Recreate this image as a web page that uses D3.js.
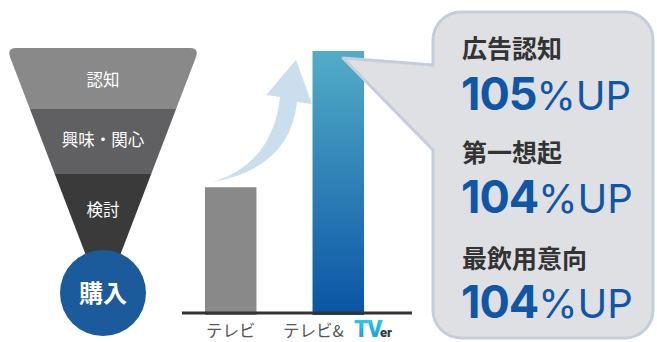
<!DOCTYPE html>
<html>
<head>
<meta charset="utf-8">
<script src="https://cdn.jsdelivr.net/npm/d3@7"></script>
<style>
  html, body { margin: 0; padding: 0; background: #fff; }
  svg { display: block; }
</style>
</head>
<body>
<svg id="chart" width="657" height="342"></svg>
<script>
// Funnel stages (top to bottom) and the final stage shown in the circle
const funnelStages = ["認知", "興味・関心", "検討"];
const funnelGoal = "購入";

// Bar chart: categories and relative bar heights
const barCategories = ["テレビ", "テレビ&TVer"];
const barValues = [48, 100];

// Callout: metric names and uplift values
const metricNames = ["広告認知", "第一想起", "最飲用意向"];
const metricLift = [105, 104, 104];

const JP = "'Noto Sans CJK JP', 'Noto Sans', sans-serif";
const NUM = "Inter, 'Open Sans', sans-serif";

const svg = d3.select("#chart");
const defs = svg.append("defs");

/* ---------- Funnel ---------- */
const fTop = 48, fLeft = 7, fRight = 199, apexY = 300;
const fCx = (fLeft + fRight) / 2;
const bandEdges = [48, 109, 174, 300];
const bandColors = ["#898989", "#606062", "#3a3a3b"];

const tri = d3.path();
const rc = 9;
tri.moveTo(fLeft + rc, fTop);
tri.lineTo(fRight - rc, fTop);
tri.quadraticCurveTo(fRight, fTop, fRight - 3, fTop + rc);
tri.lineTo(fCx, apexY);
tri.lineTo(fLeft + 3, fTop + rc);
tri.quadraticCurveTo(fLeft, fTop, fLeft + rc, fTop);
tri.closePath();

defs.append("clipPath").attr("id", "funnelClip")
  .append("path").attr("d", tri.toString());

const funnel = svg.append("g").attr("clip-path", "url(#funnelClip)");
funnel.selectAll("rect").data(funnelStages).join("rect")
  .attr("x", 0).attr("width", 210)
  .attr("y", (d, i) => bandEdges[i])
  .attr("height", (d, i) => bandEdges[i + 1] - bandEdges[i] + (i < 2 ? 0.5 : 0))
  .attr("fill", (d, i) => bandColors[i]);

const labelY = [80, 140, 210];
svg.selectAll("text.stage").data(funnelStages).join("text")
  .attr("class", "stage")
  .attr("x", fCx).attr("y", (d, i) => labelY[i])
  .attr("dy", "0.37em")
  .attr("text-anchor", "middle")
  .attr("font-family", JP).attr("font-size", 16.5)
  .attr("fill", "#fff")
  .text(d => d);

svg.append("circle")
  .attr("cx", 103).attr("cy", 293).attr("r", 43)
  .attr("fill", "#1b5a9b");
svg.append("text")
  .attr("x", 103).attr("y", 293).attr("dy", "0.37em")
  .attr("text-anchor", "middle")
  .attr("font-family", JP).attr("font-weight", 700).attr("font-size", 24)
  .attr("fill", "#fff")
  .text(funnelGoal);

/* ---------- Bars ---------- */
const x = d3.scaleBand().domain(barCategories)
  .range([177, 392]).paddingInner(0.521).paddingOuter(0.26);
const y = d3.scaleLinear().domain([0, 100]).range([313, 51]);

const grad = defs.append("linearGradient").attr("id", "barBlue")
  .attr("x1", 0).attr("y1", 0).attr("x2", 0).attr("y2", 1);
grad.append("stop").attr("offset", 0).attr("stop-color", "#52adc7");
grad.append("stop").attr("offset", 1).attr("stop-color", "#0a54a5");

// Curved arrow rising from the first bar toward the second
const arrow = d3.path();
arrow.moveTo(213, 182);
arrow.quadraticCurveTo(273, 163, 280, 97);
arrow.lineTo(266, 95);
arrow.lineTo(296, 60);
arrow.lineTo(312, 104);
arrow.lineTo(297, 102);
arrow.quadraticCurveTo(290, 168, 213, 182);
arrow.closePath();
svg.append("path").attr("d", arrow.toString()).attr("fill", "#cadeee");

svg.selectAll("rect.bar").data(barValues).join("rect")
  .attr("class", "bar")
  .attr("x", (d, i) => x(barCategories[i]))
  .attr("width", x.bandwidth())
  .attr("y", d => y(d))
  .attr("height", d => y(0) - y(d) + 2)
  .attr("fill", (d, i) => i === 0 ? "#898989" : "url(#barBlue)");

svg.append("line")
  .attr("x1", 182).attr("x2", 412)
  .attr("y1", 313).attr("y2", 313)
  .attr("stroke", "#333").attr("stroke-width", 3);

// Category labels
svg.append("text")
  .attr("x", x(barCategories[0]) + x.bandwidth() / 2).attr("y", 331)
  .attr("dy", "0.37em").attr("text-anchor", "middle")
  .attr("font-family", JP).attr("font-size", 16.5).attr("fill", "#555")
  .text(barCategories[0]);

const tverGrad = defs.append("linearGradient").attr("id", "tverGrad")
  .attr("x1", 0).attr("y1", 0).attr("x2", 0).attr("y2", 1);
tverGrad.append("stop").attr("offset", 0).attr("stop-color", "#2fd3ef");
tverGrad.append("stop").attr("offset", 1).attr("stop-color", "#1a8fd6");

const lab2 = svg.append("text")
  .attr("x", 283).attr("y", 331).attr("dy", "0.37em")
  .attr("font-family", JP).attr("font-size", 16.5).attr("fill", "#555");
lab2.append("tspan").text("テレビ&");

const logo = svg.append("text")
  .attr("x", 354).attr("y", 337)
  .attr("font-family", "Roboto, 'Liberation Sans', sans-serif")
  .attr("font-weight", 900);
logo.append("tspan").attr("font-size", 23).attr("fill", "url(#tverGrad)")
  .attr("letter-spacing", -1.5).text("TV");
logo.append("tspan").attr("font-size", 13).attr("fill", "#2a3b52")
  .attr("dx", -1).text("er");

/* ---------- Callout bubble ---------- */
const bx0 = 433, bx1 = 653, by0 = 12, by1 = 338, br = 28;
const tip = [343, 58];
const bubble = d3.path();
bubble.moveTo(bx0, 150);
bubble.lineTo(bx0, by1 - br);
bubble.arcTo(bx0, by1, bx0 + br, by1, br);
bubble.lineTo(bx1 - br, by1);
bubble.arcTo(bx1, by1, bx1, by1 - br, br);
bubble.lineTo(bx1, by0 + br);
bubble.arcTo(bx1, by0, bx1 - br, by0, br);
bubble.lineTo(bx0 + br, by0);
bubble.arcTo(bx0, by0, bx0, by0 + br, br);
bubble.lineTo(bx0, 65);
bubble.lineTo(tip[0], tip[1]);
bubble.closePath();
svg.append("path").attr("d", bubble.toString())
  .attr("fill", "#dfe0e4").attr("stroke", "#c4cddb")
  .attr("stroke-width", 3).attr("stroke-linejoin", "round");

const nameY = [49, 152.5, 259];
const liftY = [110, 213, 318];

svg.selectAll("text.metric").data(metricNames).join("text")
  .attr("class", "metric")
  .attr("x", 462).attr("y", (d, i) => nameY[i])
  .attr("dy", "0.37em")
  .attr("font-family", JP).attr("font-weight", 700).attr("font-size", 25)
  .attr("fill", "#333")
  .text(d => d);

const lifts = svg.selectAll("text.lift").data(metricLift).join("text")
  .attr("class", "lift")
  .attr("x", 461).attr("y", (d, i) => liftY[i])
  .attr("font-family", NUM).attr("fill", "#0f57a6");
lifts.append("tspan").attr("font-weight", 700).attr("font-size", 45)
  .attr("letter-spacing", -1).text(d => d);
lifts.append("tspan").attr("font-weight", 400).attr("font-size", 40)
  .text("%UP");
</script>
</body>
</html>
